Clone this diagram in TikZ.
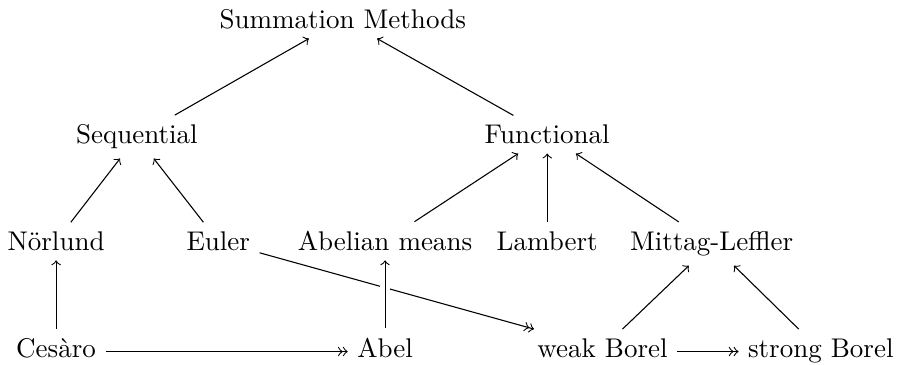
\documentclass[tikz,border=0pt]{standalone}
\usepackage{amsmath,amssymb}
\usepackage{tikz}

\tikzset{
  method/.style = {anchor = base},
  over/.style = {preaction = {draw, white, line width = 4pt, -}}
}

\begin{document}
\begin{tikzpicture}
\useasboundingbox (0,0) rectangle (11.71,4.74);

% topo
\node [method] at (4.46,4.37) (summ) {Summation Methods};
\node [method] at (1.78,2.87) (seq) {Sequential};
\node [method] at (7.12,2.87) (func) {Functional};

% terceira linha
\node [method] at (0.73,1.48) (norl) {Nörlund};
\node [method] at (2.84,1.48) (euler) {Euler};
\node [method] at (5.01,1.48) (abmeans) {Abelian means};
\node [method] at (7.12,1.48) (lamb) {Lambert};
\node [method] at (9.26,1.48) (mittag) {Mittag-Leffler};

% base
\node [method] at (0.73,0.09) (cesaro) {Cesàro};
\node [method] at (5.01,0.09) (abel) {Abel};
\node [method] at (7.84,0.09) (wborel) {weak Borel};
\node [method] at (10.68,0.09) (sborel) {strong Borel};

% conexões
\draw [->] (seq) -- (summ);
\draw [->] (func) -- (summ);
\draw [->] (norl) -- (seq);
\draw [->] (euler) -- (seq);
\draw [->] (abmeans) -- (func);
\draw [->] (lamb) -- (func);
\draw [->] (mittag) -- (func);
\draw [->] (cesaro) -- (norl);
\draw [->>] (cesaro.mid east) -- (abel.mid west);
\draw [->>] (euler) -- (wborel);
\draw [->, over] (abel) -- (abmeans);
\draw [->] (wborel) -- (mittag);
\draw [->] (sborel) -- (mittag);
\draw [->>] (wborel.mid east) -- (sborel.mid west);
\end{tikzpicture}
\end{document}
